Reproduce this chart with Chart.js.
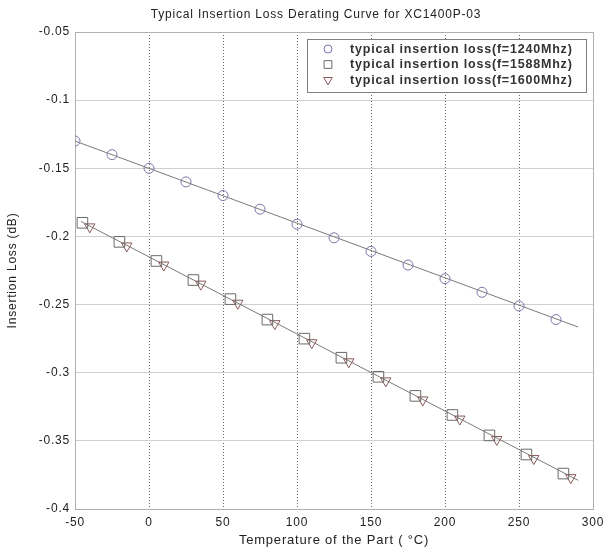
<!DOCTYPE html>
<html><head><meta charset="utf-8">
<script src="https://cdn.jsdelivr.net/npm/chart.js@4.4.1/dist/chart.umd.min.js"></script>
<style>html,body{margin:0;padding:0;background:#fff}#wrap{width:606px;height:548px}</style>
</head><body><div id="wrap"><canvas id="c" width="606" height="548"></canvas></div>
<script>
const chartTitle = 'Typical Insertion Loss Derating Curve for XC1400P-03';
const xTitle = 'Temperature of the Part ( \u00B0C)';
const yTitle = 'Insertion Loss (dB)';
const xTicks = [-50, 0, 50, 100, 150, 200, 250, 300];
const yTicks = [-0.05, -0.1, -0.15, -0.2, -0.25, -0.3, -0.35, -0.4];
const seriesLabels = ['typical insertion loss(f=1240Mhz)', 'typical insertion loss(f=1588Mhz)', 'typical insertion loss(f=1600Mhz)'];

const temp1240 = [-50, -25, 0, 25, 50, 75, 100, 125, 150, 175, 200, 225, 250, 275];
const loss1240 = [-0.130, -0.140, -0.150, -0.160, -0.170, -0.180, -0.191, -0.201, -0.211, -0.221, -0.231, -0.241, -0.251, -0.261];
const temp1588 = [-45, -20, 5, 30, 55, 80, 105, 130, 155, 180, 205, 230, 255, 280];
const loss1588 = [-0.190, -0.204, -0.218, -0.232, -0.246, -0.261, -0.275, -0.289, -0.303, -0.317, -0.331, -0.346, -0.360, -0.374];
const temp1600 = [-40, -15, 10, 35, 60, 85, 110, 135, 160, 185, 210, 235, 260, 285];
const loss1600 = [-0.193, -0.207, -0.221, -0.235, -0.249, -0.264, -0.278, -0.292, -0.306, -0.320, -0.334, -0.349, -0.363, -0.377];
// fitted derating lines (end points)
const fitTempUpper = [-50, 290];
const fitLossUpper = [-0.130, -0.2665];
const fitTempLower = [-46, 290];
const fitLossLower = [-0.189, -0.379];

const toXY = (xs, ys) => xs.map((x, i) => ({x: x, y: ys[i]}));
const FONT = "'Liberation Sans', Arial, sans-serif";
const SPACING = '0.8px';
const markerColors = ['#7878a8', '#6a6a6a', '#8a5a5a'];
const markerStyles = ['circle', 'rect', 'triangle'];
const markerRot = [0, 0, 180];
const markerRad = [5, 7.5, 6];
const legendRad = [4, 5.5, 5];

const framePlugin = {
  id: 'frame',
  beforeInit(chart) { chart.ctx.letterSpacing = SPACING; },
  beforeLayout(chart) { chart.ctx.letterSpacing = SPACING; },
  beforeDraw(chart) { chart.ctx.letterSpacing = SPACING; },
  beforeDatasetsDraw(chart) {
    const a = chart.chartArea, ctx = chart.ctx;
    ctx.save();
    ctx.strokeStyle = '#b0b0b0';
    ctx.lineWidth = 1;
    ctx.strokeRect(Math.round(a.left) + 0.5, Math.round(a.top) + 0.5, Math.round(a.right - a.left), Math.round(a.bottom - a.top));
    ctx.restore();
  },
  afterDraw(chart) {
    const ctx = chart.ctx;
    ctx.save();
    ctx.letterSpacing = SPACING;
    // title
    ctx.font = '12px ' + FONT;
    ctx.fillStyle = '#222';
    ctx.textAlign = 'center';
    ctx.textBaseline = 'middle';
    ctx.fillText(chartTitle, 316, 15);
    // legend
    const lx = 307, ly = 39, lw = 279, lh = 53;
    ctx.fillStyle = '#fff';
    ctx.fillRect(lx, ly, lw, lh);
    ctx.strokeStyle = '#808080';
    ctx.lineWidth = 1;
    ctx.strokeRect(lx + 0.5, ly + 0.5, lw, lh);
    ctx.font = 'bold 12.5px ' + FONT;
    ctx.textAlign = 'left';
    seriesLabels.forEach((lab, i) => {
      const y = ly + 10 + i * 15.5;
      ctx.strokeStyle = markerColors[i];
      ctx.fillStyle = 'rgba(0,0,0,0)';
      ctx.lineWidth = 1;
      Chart.helpers.drawPoint(ctx, {pointStyle: markerStyles[i], radius: legendRad[i], rotation: markerRot[i], borderWidth: 1}, lx + 21, y);
      ctx.fillStyle = '#333';
      ctx.fillText(lab, lx + 43, y + 0.5);
    });
    ctx.restore();
  }
};

const markerDs = (i, xs, ys) => ({
  label: seriesLabels[i],
  data: toXY(xs, ys),
  showLine: false,
  pointStyle: markerStyles[i],
  pointRotation: markerRot[i],
  pointRadius: markerRad[i],
  pointBorderWidth: 1,
  pointBorderColor: markerColors[i],
  pointBackgroundColor: 'rgba(0,0,0,0)',
  order: 1
});
const lineDs = (xs, ys) => ({
  label: 'fit',
  data: toXY(xs, ys),
  showLine: true,
  borderColor: '#7a7a7a',
  borderWidth: 1,
  pointRadius: 0,
  order: 2
});

new Chart(document.getElementById('c'), {
  type: 'scatter',
  data: {
    datasets: [
      lineDs(fitTempUpper, fitLossUpper),
      lineDs(fitTempLower, fitLossLower),
      markerDs(0, temp1240, loss1240),
      markerDs(1, temp1588, loss1588),
      markerDs(2, temp1600, loss1600)
    ]
  },
  options: {
    responsive: false,
    animation: false,
    devicePixelRatio: 1,
    layout: {padding: {top: 32, right: 13, left: 0, bottom: 0}},
    plugins: {legend: {display: false}, title: {display: false}, tooltip: {enabled: false}},
    scales: {
      x: {
        type: 'linear', min: -50, max: 300,
        afterBuildTicks: s => { s.ticks = xTicks.map(v => ({value: v})); },
        afterFit: s => { s.height = 39; s.paddingLeft = 0; s.paddingRight = 0; },
        ticks: {font: {family: FONT, size: 12}, color: '#222', padding: 6, maxRotation: 0,
          callback: v => String(v)},
        grid: {color: '#666', drawTicks: false, lineWidth: 1},
        border: {display: false, dash: [1, 2]},
        title: {display: true, text: xTitle, font: {family: FONT, size: 13}, color: '#222', padding: {top: 1, bottom: 0}}
      },
      y: {
        type: 'linear', min: -0.4, max: -0.05,
        afterBuildTicks: s => { s.ticks = yTicks.map(v => ({value: v})); },
        afterFit: s => { s.width = 75; s.paddingTop = 0; s.paddingBottom = 0; },
        ticks: {font: {family: FONT, size: 12}, color: '#222', padding: 5,
          callback: v => String(v)},
        grid: {color: '#cfcfcf', drawTicks: false, lineWidth: 1},
        border: {display: false},
        title: {display: true, text: yTitle, font: {family: FONT, size: 12}, color: '#222', padding: {top: 5, bottom: 0}}
      }
    }
  },
  plugins: [framePlugin]
});
</script></body></html>
